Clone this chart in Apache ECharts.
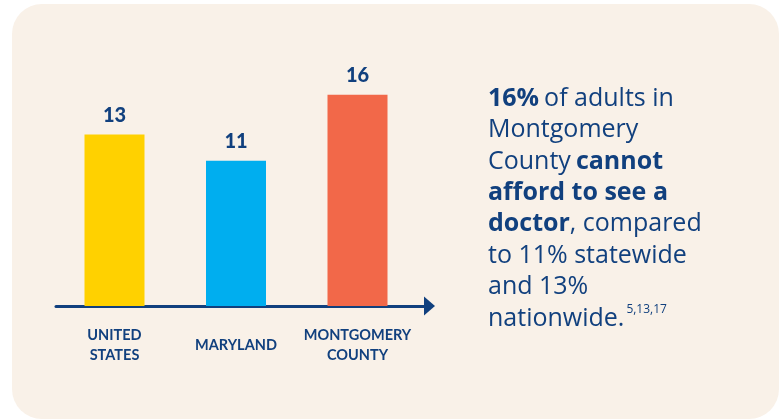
<!DOCTYPE html>
<html>
<head>
<meta charset="utf-8">
<script src="https://cdn.jsdelivr.net/npm/echarts@6/dist/echarts.min.js"></script>
<style>
  html, body { margin: 0; padding: 0; background: #ffffff; }
  #chart { width: 779px; height: 419px; }
</style>
</head>
<body>
<div id="chart"></div>
<script>
// Share of adults who cannot afford to see a doctor (%)
const categories = ['UNITED\nSTATES', 'MARYLAND', 'MONTGOMERY\nCOUNTY'];
const values = [13, 11, 16];
const barColors = ['#ffd100', '#00aeef', '#f26849'];

const navy = '#11407e';
const panel = '#f9f1e8';
const textFont = '"Open Sans", Lato, sans-serif';

const chart = echarts.init(document.getElementById('chart'), null, { renderer: 'canvas' });

const para = [
  '{b|' + values[2] + '%} {r|of adults in}',
  '{r|Montgomery}',
  '{r|County} {b|cannot}',
  '{b|afford to see a}',
  '{b|doctor}{r|, compared}',
  '{r|to ' + values[1] + '% statewide}',
  '{r|and ' + values[0] + '%}',
  '{r|nationwide.}{s|5,13,17}'
].join('\n');

chart.setOption({
  backgroundColor: '#ffffff',
  animation: false,
  graphic: [{
    type: 'rect',
    z: -10,
    shape: { x: 12, y: 4, width: 767, height: 415, r: 30 },
    style: { fill: panel }
  }],
  title: {
    text: para,
    left: 488,
    top: 83,
    padding: 0,
    textStyle: {
      rich: {
        b: { fontFamily: textFont, fontWeight: 'bold', fontSize: 25, color: navy, lineHeight: 31.4 },
        r: { fontFamily: textFont, fontWeight: 'normal', fontSize: 25, color: navy, lineHeight: 31.4 },
        s: { fontFamily: textFont, fontWeight: 'normal', fontSize: 12, color: navy, lineHeight: 31.4, verticalAlign: 'top', padding: [1, 0, 0, 2] }
      }
    }
  },
  grid: [
    { left: 53.75, width: 364.5, top: 42, bottom: 113 },
    { left: 56, right: 349.5, top: 42, bottom: 113 }
  ],
  xAxis: [{
    type: 'category',
    gridIndex: 0,
    data: categories,
    axisLine: { show: false },
    axisTick: { show: false },
    axisLabel: {
      interval: 0,
      margin: 39.5,
      verticalAlign: 'middle',
      lineHeight: 20,
      fontFamily: 'Lato, sans-serif',
      fontWeight: 'bold',
      fontSize: 14.5,
      color: navy
    }
  }, {
    type: 'value',
    gridIndex: 1,
    min: 0,
    max: 1,
    axisLine: {
      show: true,
      symbol: ['none', 'triangle'],
      symbolSize: [19, 11],
      lineStyle: { color: navy, width: 3 }
    },
    axisTick: { show: false },
    axisLabel: { show: false },
    splitLine: { show: false }
  }],
  yAxis: [{
    type: 'value',
    gridIndex: 0,
    min: 0,
    max: 20,
    show: false
  }, {
    type: 'value',
    gridIndex: 1,
    min: 0,
    max: 1,
    show: false
  }],
  series: [{
    type: 'bar',
    xAxisIndex: 0,
    yAxisIndex: 0,
    barWidth: 60,
    data: values.map((v, i) => ({ value: v, itemStyle: { color: barColors[i] } })),
    label: {
      show: true,
      position: 'top',
      distance: 9,
      fontFamily: 'Lato, sans-serif',
      fontWeight: 900,
      fontSize: 20,
      color: navy
    }
  }]
});
</script>
</body>
</html>
